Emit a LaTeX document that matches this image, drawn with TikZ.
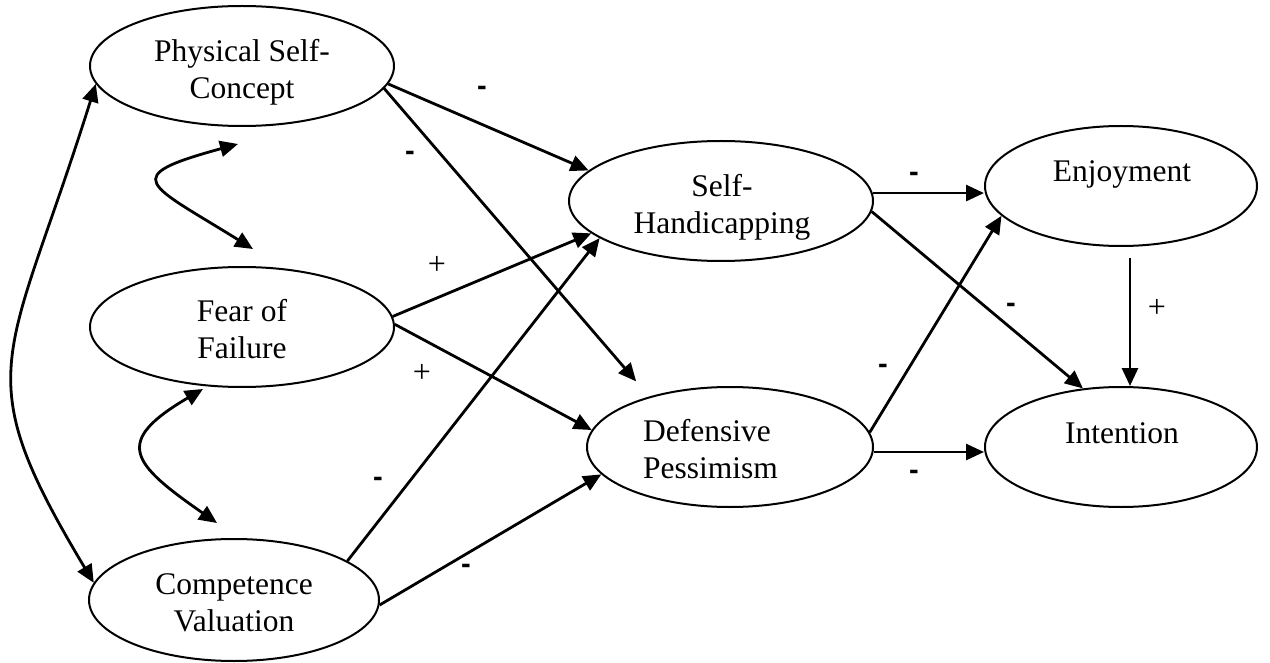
\documentclass[tikz,border=0pt]{standalone}
\usepackage{fontspec}
\setmainfont{Liberation Serif}
\newfontfamily\lsans{Liberation Sans}
\usetikzlibrary{arrows.meta,shapes.geometric}
\begin{document}
\begin{tikzpicture}[x=1pt,y=-1pt,
  latent/.style={draw, ellipse, line width=2pt, inner sep=0pt},
  txt/.style={inner sep=0pt, align=center, font=\fontsize{31.5}{37}\selectfont},
  pathar/.style={line width=2.8pt, -{Triangle[length=18pt,width=16pt]}},
  cov/.style={line width=2.8pt, {Triangle[length=18pt,width=16pt]}-{Triangle[length=18pt,width=16pt]}},
  negsign/.style={inner sep=0pt, font=\lsans\bfseries\fontsize{29}{29}\selectfont},
  possign/.style={inner sep=0pt, font=\fontsize{32}{32}\selectfont}]
\useasboundingbox (0,0) rectangle (1270,663);
\fill[white] (0,0) rectangle (1270,663);

% latent variables
\node[latent, minimum width=304pt, minimum height=120pt] (ps) at (242,66) {};
\node[latent, minimum width=304pt, minimum height=120pt] (fear) at (242,327) {};
\node[latent, minimum width=290pt, minimum height=122pt] (cv) at (234,600) {};
\node[latent, minimum width=304pt, minimum height=120pt] (sh) at (721,201) {};
\node[latent, minimum width=286pt, minimum height=120pt] (dp) at (730,447) {};
\node[latent, minimum width=272pt, minimum height=120pt] (enj) at (1121,186) {};
\node[latent, minimum width=272pt, minimum height=120pt] (int) at (1121,447) {};

% texts
\node[txt] (psT) at (242,72) {Physical Self-\\Concept};
\node[txt] (fearT) at (242,329) {Fear of\\Failure};
\node[txt] (cvT) at (234,603) {Competence\\Valuation};
\node[txt] (shT) at (722,207) {Self-\\Handicapping};
\node[txt, align=left, anchor=west] (dpT) at (643,449) {Defensive\\Pessimism};
\node[txt, anchor=base] (enjT) at (1122,182) {Enjoyment};
\node[txt, anchor=base] (intT) at (1122,443) {Intention};

% directed paths
\draw[pathar] (ps.-7) -- (sh.167);
\draw[pathar, shorten >=20pt] (ps.-9) -- (dp.148);
\draw[pathar] (fear.4) -- (sh.194);
\draw[pathar] (fear.1) -- (dp.173);
\draw[pathar] (cv.19.5) -- (sh.197);
\draw[pathar] (cv.-2) -- (dp.192);
\draw[pathar] (sh.3) -- (sh.3 -| enj.west);
\draw[pathar] (sh.-4.5) -- (int.123);
\draw[pathar] (dp.6.7) -- (enj.194);
\draw[pathar] (dp.-2.4) -- (dp.-2.4 -| int.west);
\draw[pathar] ([xshift=9pt,yshift=-11pt]enj.south) -- ([xshift=9pt]int.north);

% covariances
\draw[cov] ([xshift=-4pt,yshift=-17pt]ps.south) .. controls +(-120.5,33) and +(-106,-66) .. ([xshift=11pt,yshift=17pt]fear.north);
\draw[cov] ([xshift=-39pt,yshift=-1pt]fear.south) .. controls +(-90.4,53) and +(-86,-60) .. ([xshift=-17pt,yshift=15pt]cv.north);
\draw[cov] (ps.187) .. controls +(-88.2,281.4) and +(-128.5,-214.3) .. (cv.173);

% signs
\node[negsign] (l1) at (482,91) {-};
\node[negsign] (l2) at (410,156) {-};
\node[possign] (l3) at (437,265) {+};
\node[possign] (l4) at (422,373) {+};
\node[negsign] (l5) at (378,482) {-};
\node[negsign] (l6) at (466,569) {-};
\node[negsign] (l7) at (914,177) {-};
\node[negsign] (l8) at (1011,308) {-};
\node[negsign] (l9) at (883,369) {-};
\node[negsign] (l10) at (914,475) {-};
\node[possign] (l11) at (1157,308) {+};
\end{tikzpicture}
\end{document}
